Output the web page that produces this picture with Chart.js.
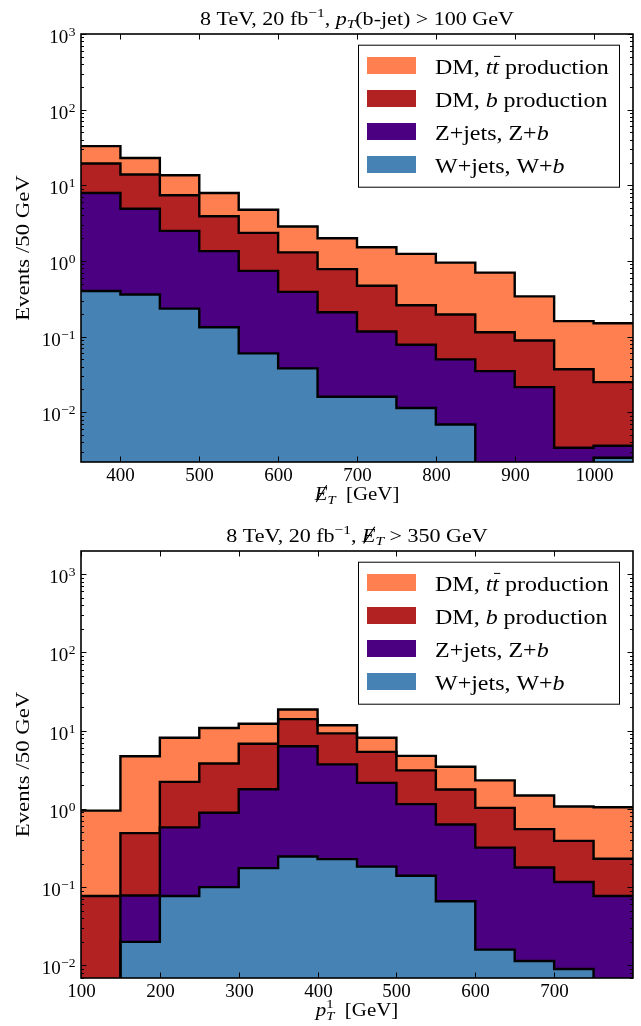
<!DOCTYPE html>
<html lang="en">
<head>
<meta charset="UTF-8">
<title>DM b-jet stacked histograms</title>
<script src="https://cdn.jsdelivr.net/npm/chart.js@4.4.4/dist/chart.umd.min.js"></script>
<style>
    html, body { margin: 0; padding: 0; background: #fff; }
    #wrap { position: relative; width: 641px; height: 1026px; }
    canvas { position: absolute; left: 0; }
</style>
</head>
<body>
<div id="wrap">
    <canvas id="met-chart" width="641" height="513" style="top:0"></canvas>
    <canvas id="pt-chart" width="641" height="513" style="top:513px"></canvas>
</div>

<script>
// --- top panel: missing E_T, bins of 50 GeV (stack tops) ---
const metEdges = [350, 400, 450, 500, 550, 600, 650, 700, 750, 800, 850, 900, 950, 1000, 1050];
const metTicks = [400, 500, 600, 700, 800, 900, 1000];
const metStackTT = [33, 23, 13.6, 7.9, 4.75, 2.86, 2.0, 1.52, 1.24, 0.95, 0.70, 0.34, 0.16, 0.15];
const metStackB  = [19.4, 13.9, 7.4, 3.9, 2.35, 1.3, 0.78, 0.47, 0.26, 0.196, 0.114, 0.089, 0.037, 0.025];
const metStackZ  = [7.9, 4.9, 2.5, 1.35, 0.74, 0.39, 0.21, 0.117, 0.078, 0.050, 0.035, 0.0215, 0.0034, 0.0036];
const metStackW  = [0.40, 0.36, 0.234, 0.133, 0.060, 0.038, 0.016, 0.016, 0.0114, 0.0069, 0, 0, 0, 0.0025];
const metRange = [0.0022, 1000];

// --- bottom panel: leading b-jet p_T ---
const ptEdges = [100, 150, 200, 250, 300, 350, 400, 450, 500, 550, 600, 650, 700, 750, 800];
const ptTicks = [100, 200, 300, 400, 500, 600, 700];
const ptStackTT = [0.95, 4.7, 8.1, 10.8, 12.2, 18.6, 11.7, 8.1, 4.75, 3.45, 2.31, 1.48, 1.07, 1.05];
const ptStackB  = [0.077, 0.49, 2.21, 3.8, 6.8, 14.0, 9.2, 5.35, 3.1, 1.77, 1.03, 0.55, 0.39, 0.23];
const ptStackZ  = [0, 0.078, 0.58, 0.89, 1.78, 6.3, 3.7, 2.15, 1.15, 0.63, 0.32, 0.178, 0.116, 0.077];
const ptStackW  = [0, 0.020, 0.077, 0.10, 0.175, 0.246, 0.228, 0.183, 0.14, 0.066, 0.0159, 0.0114, 0.009, 0];
const ptRange = [0.0069, 1970];

// text pieces: i = italic, s = sup/sub, bar = overline, slash = \not
const legendLabels = [
    [{ t: 'DM, ' }, { t: 't', i: true }, { t: 't', i: true, bar: true }, { t: ' production' }],
    [{ t: 'DM, ' }, { t: 'b', i: true }, { t: ' production' }],
    [{ t: 'Z+jets, Z+' }, { t: 'b', i: true }],
    [{ t: 'W+jets, W+' }, { t: 'b', i: true }]
];
const metTitle = [{ t: '8 TeV, 20 fb' }, { t: '\u22121', s: 'sup' }, { t: ', ' }, { t: 'p', i: true },
    { t: 'T', i: true, s: 'sub' }, { t: '(b-jet) > 100 GeV' }];
const ptTitle = [{ t: '8 TeV, 20 fb' }, { t: '\u22121', s: 'sup' }, { t: ', ' }, { t: 'E', i: true, slash: true },
    { t: 'T', i: true, s: 'sub' }, { t: ' > 350 GeV' }];
const metXLabel = [{ t: 'E', i: true, slash: true }, { t: 'T', i: true, s: 'sub' }, { t: '  [GeV]' }];
const ptXLabel = [{ t: 'p', i: true }, { t: '1', s: 'sup', hold: true }, { t: 'T', i: true, s: 'sub' }, { t: '  [GeV]' }];
const yLabel = 'Events /50 GeV';

const colors = { tt: '#ff7f50', b: '#b22222', z: '#4b0082', w: '#4682b4' };
const FONT = '"Liberation Serif", "DejaVu Serif", serif';

function runFont(r, size) {
    return (r.i ? 'italic ' : '') + (r.s ? size * 0.7 : size) + 'px ' + FONT;
}

function layoutRuns(ctx, runs, size) {
    let x = 0, hold = 0;
    const items = runs.map(r => {
        ctx.font = runFont(r, size);
        const w = ctx.measureText(r.t).width;
        const it = { r, x, w };
        if (r.hold) hold = w;
        else { x += Math.max(w, hold); hold = 0; }
        return it;
    });
    return { items, width: x };
}

// sx stretches the serif text sideways, closer to the wide TeX glyphs of the original
function drawRuns(ctx, runs, size, px, base, align, sx) {
    const { items, width } = layoutRuns(ctx, runs, size);
    const x0 = align === 'left' ? px : px - width * sx / 2;
    ctx.save();
    ctx.translate(x0, base);
    ctx.scale(sx, 1);
    ctx.textAlign = 'left';
    ctx.textBaseline = 'alphabetic';
    ctx.fillStyle = '#000';
    ctx.strokeStyle = '#000';
    items.forEach(({ r, x, w }) => {
        ctx.font = runFont(r, size);
        const dy = r.s === 'sup' ? -0.42 * size : r.s === 'sub' ? 0.2 * size : 0;
        ctx.fillText(r.t, x, dy);
        if (r.bar) {
            ctx.lineWidth = 1;
            ctx.beginPath();
            ctx.moveTo(x + 0.25 * w, -0.8 * size);
            ctx.lineTo(x + 1.2 * w, -0.8 * size);
            ctx.stroke();
        }
        if (r.slash) {
            ctx.lineWidth = 1;
            ctx.beginPath();
            ctx.moveTo(x + 0.12 * w, 0.1 * size);
            ctx.lineTo(x + 0.95 * w, -0.78 * size);
            ctx.stroke();
        }
    });
    ctx.restore();
}

// histogram outline as a staircase: two points per bin
function stairs(edges, tops, floor) {
    const pts = [];
    tops.forEach((v, i) => {
        const y = v > 0 ? v : floor;
        pts.push({ x: edges[i], y: y }, { x: edges[i + 1], y: y });
    });
    return pts;
}

function makeDatasets(edges, w, z, b, tt, floor) {
    return [
        { label: 'W+jets, W+b', data: stairs(edges, w, floor), backgroundColor: colors.w, fill: 'start' },
        { label: 'Z+jets, Z+b', data: stairs(edges, z, floor), backgroundColor: colors.z, fill: '-1' },
        { label: 'DM, b production', data: stairs(edges, b, floor), backgroundColor: colors.b, fill: '-1' },
        { label: 'DM, tt production', data: stairs(edges, tt, floor), backgroundColor: colors.tt, fill: '-1' }
    ].map(d => Object.assign(d, {
        borderColor: '#000', borderWidth: 2.4, pointRadius: 0, tension: 0,
        borderJoinStyle: 'miter', clip: 0
    }));
}

// frame, inward ticks, labels, title, legend
const axesDecor = {
    id: 'axesDecor',
    afterDraw(chart, args, opts) {
        const { ctx, chartArea: a } = chart;
        const xs = chart.scales.x, ys = chart.scales.y;
        ctx.save();
        ctx.strokeStyle = '#000';
        ctx.lineWidth = 1;
        const seg = (x1, y1, x2, y2) => { ctx.beginPath(); ctx.moveTo(x1, y1); ctx.lineTo(x2, y2); ctx.stroke(); };

        // x ticks top & bottom
        ctx.fillStyle = '#000';
        ctx.font = '19px ' + FONT;
        ctx.textAlign = 'center';
        ctx.textBaseline = 'alphabetic';
        opts.xTicks.forEach(v => {
            const px = Math.round(xs.getPixelForValue(v)) + 0.5;
            seg(px, a.bottom, px, a.bottom - 5.5);
            seg(px, a.top, px, a.top + 5.5);
            ctx.fillText(String(v), px, a.bottom + 19);
        });

        // log y ticks left & right
        const lo = Math.floor(Math.log10(ys.min)), hi = Math.ceil(Math.log10(ys.max));
        for (let d = lo; d <= hi; d++) {
            for (let k = 1; k <= 9; k++) {
                const v = k * Math.pow(10, d);
                if (v < ys.min * 0.999 || v > ys.max * 1.001) continue;
                const py = Math.round(ys.getPixelForValue(v)) + 0.5;
                const len = k === 1 ? 5.5 : 3;
                seg(a.left, py, a.left + len, py);
                seg(a.right, py, a.right - len, py);
                if (k === 1) {
                    const ex = d < 0 ? '\u2212' + (-d) : String(d);
                    ctx.font = '13.5px ' + FONT;
                    const ew = ctx.measureText(ex).width;
                    const rx = a.left - 5.5;
                    ctx.textAlign = 'left';
                    ctx.fillText(ex, rx - ew, py + 1.5);
                    ctx.font = '19px ' + FONT;
                    ctx.textAlign = 'right';
                    ctx.fillText('10', rx - ew - 0.5, py + 8.5);
                }
            }
        }

        // frame
        ctx.lineWidth = 1.6;
        ctx.strokeRect(a.left, a.top, a.right - a.left, a.bottom - a.top);

        const cx = (a.left + a.right) / 2;
        drawRuns(ctx, opts.title, 19, cx, a.top - 9.5, 'center', 1.16);
        drawRuns(ctx, opts.xLabel, 19, cx, a.bottom + 38, 'center', 1.1);

        ctx.save();
        ctx.translate(28.5, (a.top + a.bottom) / 2);
        ctx.rotate(-Math.PI / 2);
        ctx.scale(1.2, 1);
        ctx.font = '19px ' + FONT;
        ctx.textAlign = 'center';
        ctx.textBaseline = 'alphabetic';
        ctx.fillStyle = '#000';
        ctx.fillText(yLabel, 0, 0);
        ctx.restore();

        // legend box in the upper right of the axes
        const bw = 261, bh = 142;
        const bx = a.right - 14 - bw, by = a.top + 10.7;
        ctx.fillStyle = '#fff';
        ctx.fillRect(bx, by, bw, bh);
        ctx.lineWidth = 1;
        ctx.strokeStyle = '#000';
        ctx.strokeRect(bx + 0.5, by + 0.5, bw, bh);
        const legColors = [colors.tt, colors.b, colors.z, colors.w];
        legendLabels.forEach((runs, i) => {
            const cy = by + 20.8 + i * 33;
            ctx.fillStyle = legColors[i];
            ctx.fillRect(bx + 9, cy - 8.5, 49, 17);
            drawRuns(ctx, runs, 22, bx + 77, cy + 8.5, 'left', 1.09);
        });
        ctx.restore();
    }
};

function makeChart(id, edges, stacks, range, ticks, title, xLabel, pad) {
    const floor = range[0] / 100;
    return new Chart(document.getElementById(id), {
        type: 'line',
        data: { datasets: makeDatasets(edges, stacks[0], stacks[1], stacks[2], stacks[3], floor) },
        options: {
            responsive: false,
            animation: false,
            events: [],
            layout: { padding: pad },
            scales: {
                x: { type: 'linear', display: false, min: edges[0], max: edges[edges.length - 1] },
                y: { type: 'logarithmic', display: false, min: range[0], max: range[1] }
            },
            plugins: {
                legend: { display: false },
                title: { display: false },
                tooltip: { enabled: false },
                filler: { drawTime: 'beforeDatasetsDraw' },
                axesDecor: { title: title, xLabel: xLabel, xTicks: ticks }
            }
        },
        plugins: [axesDecor]
    });
}

makeChart('met-chart', metEdges, [metStackW, metStackZ, metStackB, metStackTT], metRange, metTicks,
    metTitle, metXLabel, { left: 81, right: 8, top: 34, bottom: 51 });
makeChart('pt-chart', ptEdges, [ptStackW, ptStackZ, ptStackB, ptStackTT], ptRange, ptTicks,
    ptTitle, ptXLabel, { left: 81, right: 8, top: 38, bottom: 48 });
</script>
</body>
</html>
